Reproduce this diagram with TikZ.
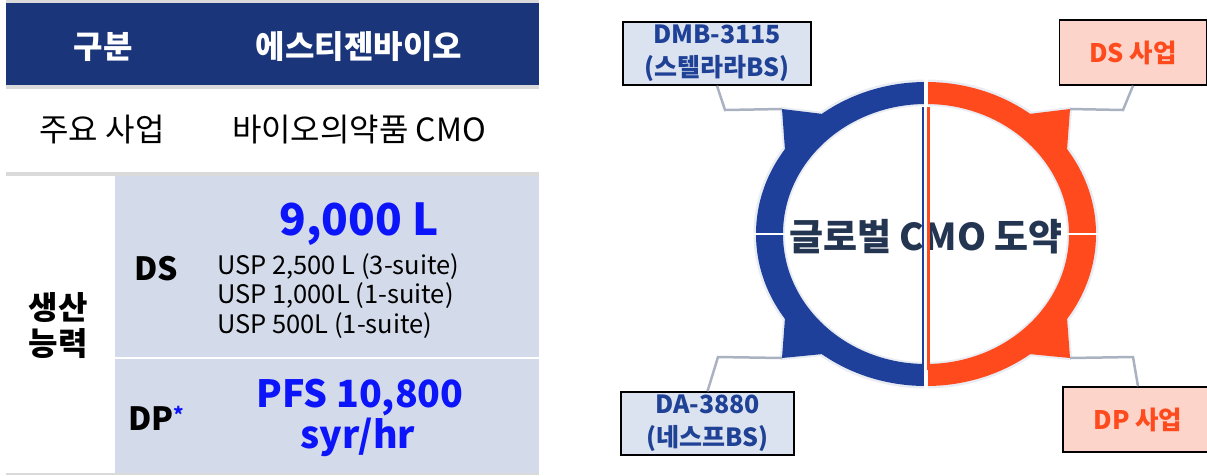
\documentclass[tikz,border=0pt]{standalone}
\usepackage{fontspec}
\setmainfont{Noto Sans CJK KR}

\definecolor{headnavy}{RGB}{26,53,122}
\definecolor{cellblue}{RGB}{211,218,234}
\definecolor{rulegray}{RGB}{218,218,218}
\definecolor{numblue}{RGB}{12,20,250}
\definecolor{ringblue}{RGB}{30,64,155}
\definecolor{ringred}{RGB}{255,74,30}
\definecolor{boxblue}{RGB}{220,227,240}
\definecolor{boxred}{RGB}{253,212,201}
\definecolor{labelblue}{RGB}{31,65,150}
\definecolor{leadgray}{RGB}{170,178,194}
\definecolor{halogray}{RGB}{233,236,242}
\definecolor{titlenavy}{RGB}{36,53,82}

\begin{document}
\begin{tikzpicture}[x=1pt,y=-1pt,
    bluebox/.style={draw=black,line width=1.5pt,fill=boxblue,text=labelblue,
      font=\bfseries\fontsize{25}{33}\selectfont,align=center,inner sep=0pt},
    redbox/.style={draw=black,line width=1.5pt,fill=boxred,text=ringred,
      font=\bfseries\fontsize{25.5}{30}\selectfont,inner sep=0pt,
      minimum width=147pt,minimum height=65pt},
    leader/.style={leadgray,line width=2.5pt}]

  \useasboundingbox (0,0) rectangle (1207,475);

  % table
  \fill[rulegray] (6,0) rectangle (539,3);
  \fill[headnavy] (6,3) rectangle (539,85);
  \fill[rulegray] (6,85) rectangle (539,89);
  \fill[rulegray] (6,172) rectangle (539,176);
  \fill[cellblue] (115,176) rectangle (539,357);
  \fill[cellblue] (115,359) rectangle (539,473);
  \fill[rulegray] (6,473) rectangle (539,475);

  \begin{scope}[every node/.style={font=\bfseries\fontsize{32}{38}\selectfont,text=white}]
    \node (hcat) at (103,47) {구분};
    \node (hco)  at (359,47) {에스티젠바이오};
  \end{scope}

  \begin{scope}[every node/.style={font=\fontsize{32}{38}\selectfont}]
    \node (rbiz) at (102,130) {주요 사업};
    \node (rcmo) at (359,130) {바이오의약품 CMO};
  \end{scope}

  \node[font=\bfseries\fontsize{32}{36}\selectfont,align=center] (cap) at (58,326) {생산\\능력};
  \node[font=\bfseries\fontsize{32}{36}\selectfont,anchor=base] (ds) at (156,280) {DS};
  \node[font=\bfseries\fontsize{32}{36}\selectfont,anchor=base west,inner sep=0pt] (dp) at (128,430)
    {DP\raisebox{8pt}{\fontsize{20}{20}\selectfont\color{numblue}*}};

  \begin{scope}[every node/.style={font=\bfseries\fontsize{44}{50}\selectfont,text=numblue,anchor=base}]
    \node (dsvol) at (359,235) {9,000 L};
  \end{scope}
  \begin{scope}[every node/.style={font=\bfseries\fontsize{37.5}{40}\selectfont,text=numblue,anchor=base}]
    \node (dpvol) at (360,407) {PFS 10,800};
    \node (dpunit) at (358,448) {syr/hr};
  \end{scope}

  \begin{scope}[every node/.style={font=\fontsize{25.5}{30}\selectfont,anchor=base west,inner sep=0pt}]
    \node (usp1) at (217,274)   {USP 2,500 L (3-suite)};
    \node (usp2) at (217,303.5) {USP 1,000L (1-suite)};
    \node (usp3) at (217,333)   {USP 500L (1-suite)};
  \end{scope}

  % ring
  \coordinate (c)  at (926,234);
  \coordinate (tl) at (782,109);
  \coordinate (tr) at (1070,109);
  \coordinate (bl) at (782,358);
  \coordinate (br) at (1070,358);
  \coordinate (tlk) at (725,110);
  \coordinate (trk) at (1123,110);
  \coordinate (blk) at (718,357);
  \coordinate (brk) at (1133,357);

  \draw[halogray,line width=5pt] (c) ellipse [x radius=170pt,y radius=152pt];
  \draw[halogray,line width=4pt] (c) ellipse [x radius=143pt,y radius=130pt];
  \filldraw[halogray,line width=4pt,line join=round]
    (785,150) -- (tl) -- (823,114) -- cycle
    (1067,150) -- (tr) -- (1029,114) -- cycle
    (785,318) -- (bl) -- (823,354) -- cycle
    (1067,318) -- (br) -- (1029,354) -- cycle;

  \begin{scope}
    \clip (700,60) rectangle (926,410);
    \fill[ringblue,even odd rule] (c) ellipse [x radius=170pt,y radius=152pt]
      (c) ellipse [x radius=143pt,y radius=130pt];
  \end{scope}
  \begin{scope}
    \clip (926,60) rectangle (1120,410);
    \fill[ringred,even odd rule] (c) ellipse [x radius=170pt,y radius=152pt]
      (c) ellipse [x radius=143pt,y radius=130pt];
  \end{scope}

  % labels
  \node[bluebox,minimum width=188pt,minimum height=63pt] (dmb) at (717,53.5) {DMB-3115\\(스텔라라BS)};
  \node[redbox] (dsb) at (1133,52.5) {DS 사업};
  \node[bluebox,minimum width=173pt,minimum height=63pt] (da) at (707.5,423.5) {DA-3880\\(네스프BS)};
  \node[redbox,minimum width=150pt] (dpb) at (1138,419.5) {DP 사업};

  \draw[leader] (tl) -- (tlk) -- (dmb.south);
  \draw[leader] (tr) -- (trk) -- (dsb.south);
  \draw[leader] (bl) -- (blk) -- (da.north);
  \draw[leader] (br) -- (brk) -- (dpb.north);

  \fill[ringblue] (785,150) -- (tl) -- (823,114) -- cycle;
  \fill[ringred]  (1067,150) -- (tr) -- (1029,114) -- cycle;
  \fill[ringblue] (785,318) -- (bl) -- (823,354) -- cycle;
  \fill[ringred]  (1067,318) -- (br) -- (1029,354) -- cycle;

  \draw[white,line width=4pt] (926,75) -- (926,108);
  \draw[white,line width=4pt] (926,360) -- (926,392);
  \draw[white,line width=2pt] (750,234) -- (790,234);
  \draw[white,line width=2pt] (1062,234) -- (1102,234);

  \node[font=\bfseries\fontsize{37}{40}\selectfont,text=titlenavy] (goal) at (926,237) {글로벌 CMO 도약};

  \draw[ringblue,line width=1.6pt] (923,107) -- (923,370);
  \draw[ringred,line width=2.6pt] (928.5,107) -- (928.5,370);

\end{tikzpicture}
\end{document}
